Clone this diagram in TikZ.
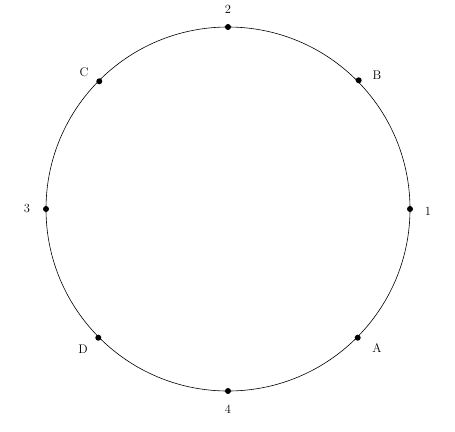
\documentclass[tikz,border=0pt]{standalone}
\begin{document}
\begin{tikzpicture}[x=1pt,y=-1pt,
  dot/.style={circle,fill=black,inner sep=0pt,minimum size=6pt},
  lbl/.style={inner sep=0pt,font=\fontsize{12.5}{14}\selectfont}]
\useasboundingbox (0,0) rectangle (455,431);
\coordinate (c) at (228,209);
\draw[line width=0.6pt] (c) circle[radius=182];
\node[dot] (p1) at (410,209) {};
\node[dot] (p2) at (228,27) {};
\node[dot] (p3) at (46,209) {};
\node[dot] (p4) at (228,391) {};
\node[dot] (pB) at (358.7,80.3) {};
\node[dot] (pC) at (99.3,81.3) {};
\node[dot] (pD) at (98.3,337.7) {};
\node[dot] (pA) at (357.7,337.7) {};
\node[lbl] (l1) at (428,211) {1};
\node[lbl] (l2) at (228,9) {2};
\node[lbl] (l3) at (27,208) {3};
\node[lbl] (l4) at (228,409) {4};
\node[lbl] (lB) at (377,75) {B};
\node[lbl] (lC) at (84,72) {C};
\node[lbl] (lD) at (83,349) {D};
\node[lbl] (lA) at (377,348) {A};
\end{tikzpicture}
\end{document}
